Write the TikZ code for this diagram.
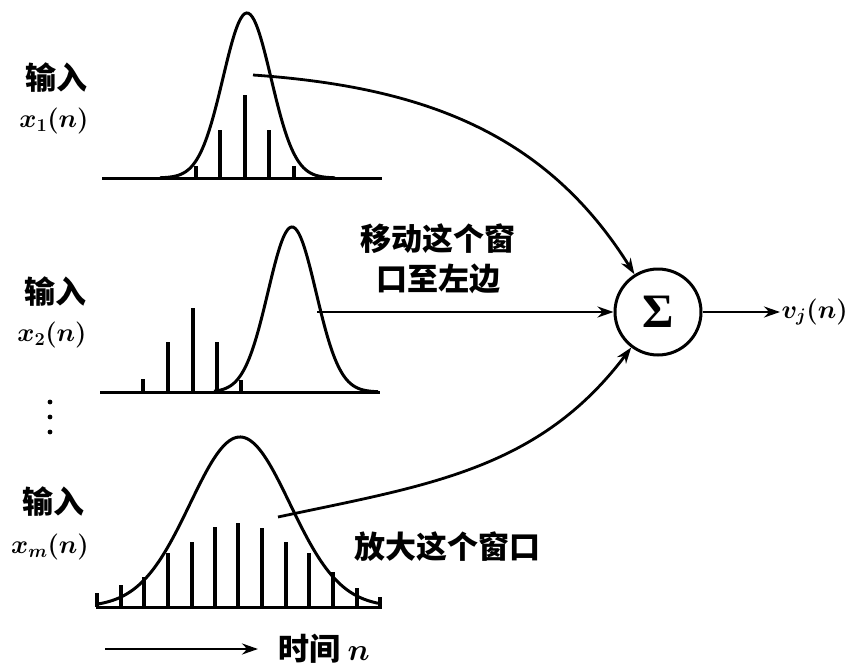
\RequirePackage{fix-cm}
\documentclass[tikz,border=0pt]{standalone}
\usepackage{fontspec}
\newfontfamily\cjk{Noto Sans CJK SC}
\newfontfamily\sumfont{Liberation Serif}
\usetikzlibrary{arrows.meta}

\begin{document}
\begin{tikzpicture}[x=1pt, y=-1pt, line width=3pt,
		zh/.style={font=\fontsize{31}{40}\selectfont\cjk\bfseries, inner sep=0pt},
		sig/.style={font=\fontsize{26}{30}\selectfont\boldmath, inner sep=0pt},
		stem/.style={line width=3.3pt},
		wave/.style={line width=3pt},
		link/.style={-{Stealth[length=16pt, width=11pt]}, line width=2.8pt},
		adder/.style={circle, draw, minimum size=86pt, inner sep=0pt, line width=3pt,
			font=\fontsize{48}{48}\selectfont\sumfont\bfseries}]

		\useasboundingbox (0,0) rectangle (854,669);

		% first input
		\node[zh] (in1) at (56,78) {输入};
		\node[sig] (x1) at (54,121) {$x_1(n)$};
		\draw (102,178) -- (382,178);
		\draw[wave] plot[domain=160:335, samples=90, smooth] (\x, {178-165*exp(-0.5*(((\x-247)/24)^2))});
		\foreach \sx/\sh in {196/12, 220/48, 245/83, 269/48, 294/12}
			\draw[stem] (\sx,178) -- (\sx,178-\sh);

		% second input
		\node[zh] (in2) at (55,292) {输入};
		\node[sig] (x2) at (52,335) {$x_2(n)$};
		\draw (100,392) -- (380,392);
		\draw[wave] plot[domain=214:378, samples=90, smooth] (\x, {392-165*exp(-0.5*(((\x-292)/24)^2))});
		\foreach \sx/\sh in {143/13, 168/50, 193/84, 217/50, 241/12}
			\draw[stem] (\sx,392) -- (\sx,392-\sh);

		\fill (50,402) circle (2.4);
		\fill (50,417) circle (2.4);
		\fill (50,432) circle (2.4);

		% last input
		\node[zh] (in3) at (53,502) {输入};
		\node[sig] (xm) at (50,547) {$x_m(n)$};
		\draw (96,607) -- (382,607);
		\draw[wave] plot[domain=96:378, samples=120, smooth] (\x, {607-170*exp(-0.5*(((\x-240)/50)^2))});
		\foreach \sx/\sh in {97/14, 121/22, 144/30, 168/54, 192/65, 215/80, 238/84, 262/79, 286/65, 309/54, 333/35, 357/19, 380/10}
			\draw[stem] (\sx,607) -- (\sx,607-\sh);

		\node[adder] (sum) at (658,312) {Σ};
		\coordinate (w1) at (253,75);
		\coordinate (w2) at (317,312);
		\coordinate (wm) at (278,517);

		\draw[link] (w1) to[out=-4, in=122] (sum);
		\draw[link] (w2) -- (sum);
		\draw[link] (wm) to[out=12, in=-127] (sum);

		\node[zh, align=center] (shift) at (438,259) {移动这个窗\\口至左边};
		\node[zh] (widen) at (447,547) {放大这个窗口};

		\node[sig, anchor=west] (vout) at (780,312) {$v_j(n)$};
		\draw[link] (sum) -- (vout);

		\coordinate (t0) at (105,649);
		\node[zh, anchor=west, inner xsep=19pt] (time) at (258,649) {时间 {\boldmath$n$}};
		\draw[link] (t0) -- (time);
	\end{tikzpicture}
\end{document}
